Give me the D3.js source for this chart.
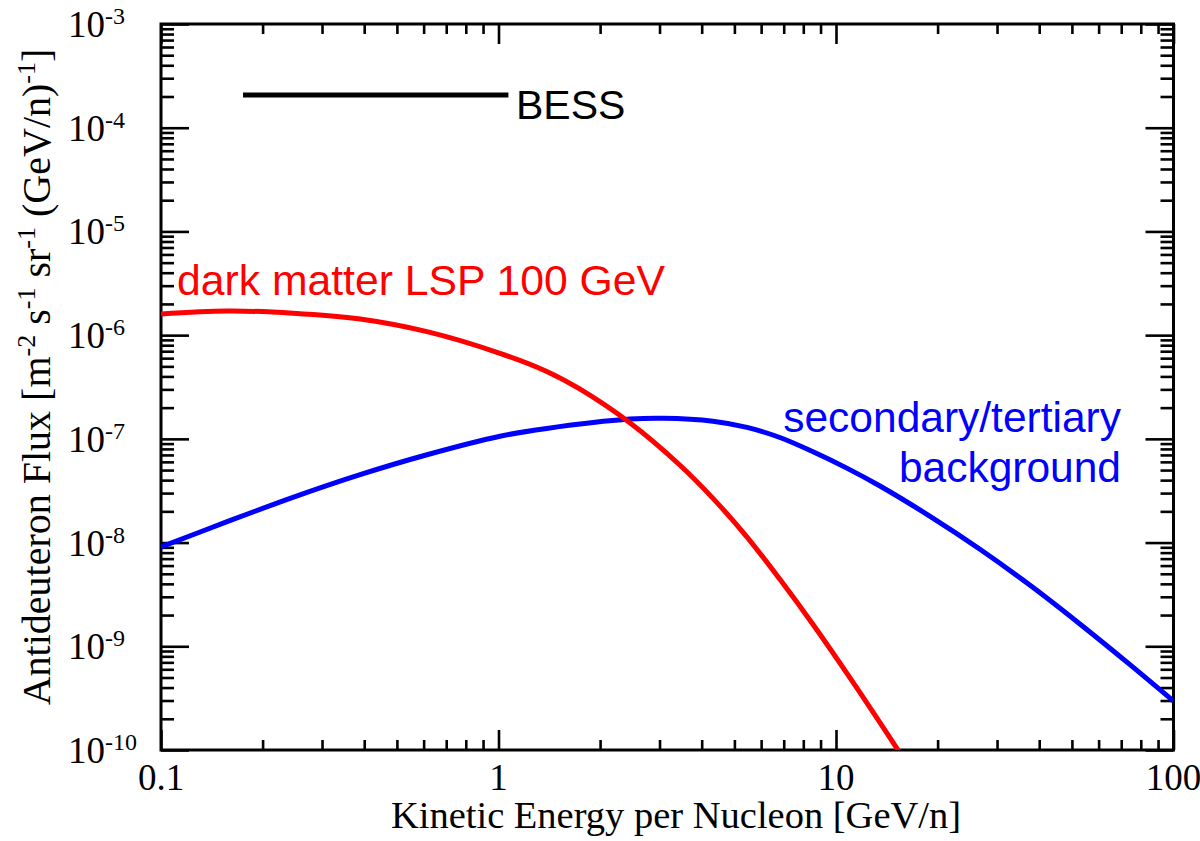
<!DOCTYPE html>
<html>
<head>
<meta charset="utf-8">
<script src="https://cdn.jsdelivr.net/npm/d3@7"></script>
<style>
  body { margin: 0; background: #fff; }
  .tick text { display: none; }
  .axis path { display: none; }
  .axis line { stroke: #000; stroke-width: 2.6; }
</style>
</head>
<body>
<svg class="chart" width="1200" height="841"></svg>
<script>
// kinetic energy per nucleon [GeV/n] and flux
var darkEnergy = [0.1, 0.157, 0.246, 0.389, 0.614, 1.01, 1.39, 1.74, 2.45, 3.45, 4.32, 5.45, 6.82, 8.55, 10.8, 13.5, 15.6];
var darkFlux   = [1.60e-6, 1.71e-6, 1.63e-6, 1.43e-6, 1.08e-6, 6.68e-7, 4.47e-7, 3.03e-7, 1.43e-7, 5.57e-8, 2.67e-8, 1.13e-8, 4.42e-9, 1.62e-9, 5.42e-10, 1.84e-10, 8.95e-11];

var bgEnergy = [0.1, 0.157, 0.246, 0.389, 0.614, 1.01, 1.39, 2.45, 3.07, 4.32, 5.45, 6.82, 8.55, 10.8, 13.5, 19.0, 26.7, 37.6, 52.8, 74.3, 100];
var bgFlux   = [9.06e-9, 1.59e-8, 2.73e-8, 4.52e-8, 7.03e-8, 1.06e-7, 1.26e-7, 1.55e-7, 1.58e-7, 1.48e-7, 1.29e-7, 1.03e-7, 7.50e-8, 5.19e-8, 3.51e-8, 1.79e-8, 8.63e-9, 3.87e-9, 1.64e-9, 6.65e-10, 2.96e-10];

// BESS upper limit
var bessEnergy = [0.175, 1.07];
var bessFlux = 2.07e-4;

var xTicks = [0.1, 1, 10, 100];
var xTickLabels = ["0.1", "1", "10", "100"];
var yExponents = [-3, -4, -5, -6, -7, -8, -9, -10];

var svg = d3.select(".chart"),
    margin = {top: 24, right: 26.5, bottom: 91, left: 161},
    width = +svg.attr("width") - margin.left - margin.right,
    height = +svg.attr("height") - margin.top - margin.bottom;

var x = d3.scaleLog().domain([0.1, 100]).range([0, width]);
var y = d3.scaleLog().domain([1e-10, 1e-3]).range([height, 0]);

var g = svg.append("g")
    .attr("transform", "translate(" + margin.left + "," + margin.top + ")");

// minor ticks: 2..9 in every decade
var xMinor = [], yMinor = [];
[0.1, 1, 10].forEach(function(d) { for (var k = 2; k < 10; k++) xMinor.push(d * k); });
yExponents.slice(1).forEach(function(e) { for (var k = 2; k < 10; k++) yMinor.push(Math.pow(10, e) * k); });
var yMajor = yExponents.map(function(e) { return Math.pow(10, e); });

function addAxis(axis, tr) {
  g.append("g").attr("class", "axis").attr("transform", tr).call(axis);
}
addAxis(d3.axisBottom(x).tickValues(xMinor).tickSize(-10), "translate(0," + height + ")");
addAxis(d3.axisBottom(x).tickValues(xTicks).tickSize(-20), "translate(0," + height + ")");
addAxis(d3.axisTop(x).tickValues(xMinor).tickSize(-10), "translate(0,0)");
addAxis(d3.axisTop(x).tickValues(xTicks).tickSize(-20), "translate(0,0)");
addAxis(d3.axisLeft(y).tickValues(yMinor).tickSize(-13), "translate(0,0)");
addAxis(d3.axisLeft(y).tickValues(yMajor).tickSize(-28), "translate(0,0)");
addAxis(d3.axisRight(y).tickValues(yMinor).tickSize(-13), "translate(" + width + ",0)");
addAxis(d3.axisRight(y).tickValues(yMajor).tickSize(-28), "translate(" + width + ",0)");

// frame
g.append("rect")
    .attr("width", width).attr("height", height)
    .attr("fill", "none").attr("stroke", "#000").attr("stroke-width", 3);

g.append("clipPath").attr("id", "clip")
  .append("rect").attr("width", width).attr("height", height);

var line = d3.line()
    .x(function(d) { return x(d[0]); })
    .y(function(d) { return y(d[1]); })
    .curve(d3.curveCatmullRom.alpha(0.5));

var plot = g.append("g").attr("clip-path", "url(#clip)");

plot.append("path")
    .datum(d3.zip(bgEnergy, bgFlux))
    .attr("d", line)
    .attr("fill", "none").attr("stroke", "#0000ff").attr("stroke-width", 5);

plot.append("path")
    .datum(d3.zip(darkEnergy, darkFlux))
    .attr("d", line)
    .attr("fill", "none").attr("stroke", "#ff0000").attr("stroke-width", 5);

g.append("line")
    .attr("x1", x(bessEnergy[0])).attr("x2", x(bessEnergy[1]))
    .attr("y1", y(bessFlux)).attr("y2", y(bessFlux))
    .attr("stroke", "#000").attr("stroke-width", 5);

// tick labels
var serif = "'Liberation Serif', 'Times New Roman', serif";
var sans = "'Liberation Sans', Arial, sans-serif";

g.selectAll(".xlab")
    .data(xTicks)
  .enter().append("text")
    .attr("x", function(d) { return x(d); })
    .attr("y", height + 40)
    .attr("text-anchor", "middle")
    .style("font-family", serif).style("font-size", "37px")
    .text(function(d, i) { return xTickLabels[i]; });

var ylab = g.selectAll(".ylab")
    .data(yExponents)
  .enter().append("text")
    .attr("x", 68 - margin.left)
    .attr("y", function(d) { return y(Math.pow(10, d)) + 13; })
    .style("font-family", serif).style("font-size", "37px");
ylab.append("tspan").text("10");
ylab.append("tspan").attr("dy", -13).style("font-size", "24px").text(function(d) { return String(d); });

// axis titles
svg.append("text")
    .attr("x", 676).attr("y", 828)
    .attr("text-anchor", "middle")
    .style("font-family", serif).style("font-size", "38.5px")
    .text("Kinetic Energy per Nucleon [GeV/n]");

var yt = svg.append("text")
    .attr("transform", "translate(50,377) rotate(-90)")
    .attr("text-anchor", "middle")
    .style("font-family", serif).style("font-size", "40px");
var parts = [["Antideuteron Flux [m", 0], ["-2", 1], [" s", 0], ["-1", 1], [" sr", 0], ["-1", 1], [" (GeV/n)", 0], ["-1", 1], ["]", 0]];
var up = false;
parts.forEach(function(p) {
  var t = yt.append("tspan").text(p[0]);
  if (p[1] && !up) { t.attr("dy", -15).style("font-size", "26px"); up = true; }
  else if (!p[1] && up) { t.attr("dy", 15); up = false; }
  else if (p[1]) { t.style("font-size", "26px"); }
});

// curve labels
svg.append("text")
    .attr("x", 516).attr("y", 119)
    .style("font-family", sans).style("font-size", "41px")
    .text("BESS");

svg.append("text")
    .attr("x", 177).attr("y", 295)
    .attr("fill", "#ff0000")
    .style("font-family", sans).style("font-size", "42.7px")
    .text("dark matter LSP 100 GeV");

svg.append("text")
    .attr("x", 1121).attr("y", 432)
    .attr("text-anchor", "end")
    .attr("fill", "#0000ff")
    .style("font-family", sans).style("font-size", "42.5px")
    .text("secondary/tertiary");

svg.append("text")
    .attr("x", 1121).attr("y", 482)
    .attr("text-anchor", "end")
    .attr("fill", "#0000ff")
    .style("font-family", sans).style("font-size", "42.5px")
    .text("background");
</script>
</body>
</html>
